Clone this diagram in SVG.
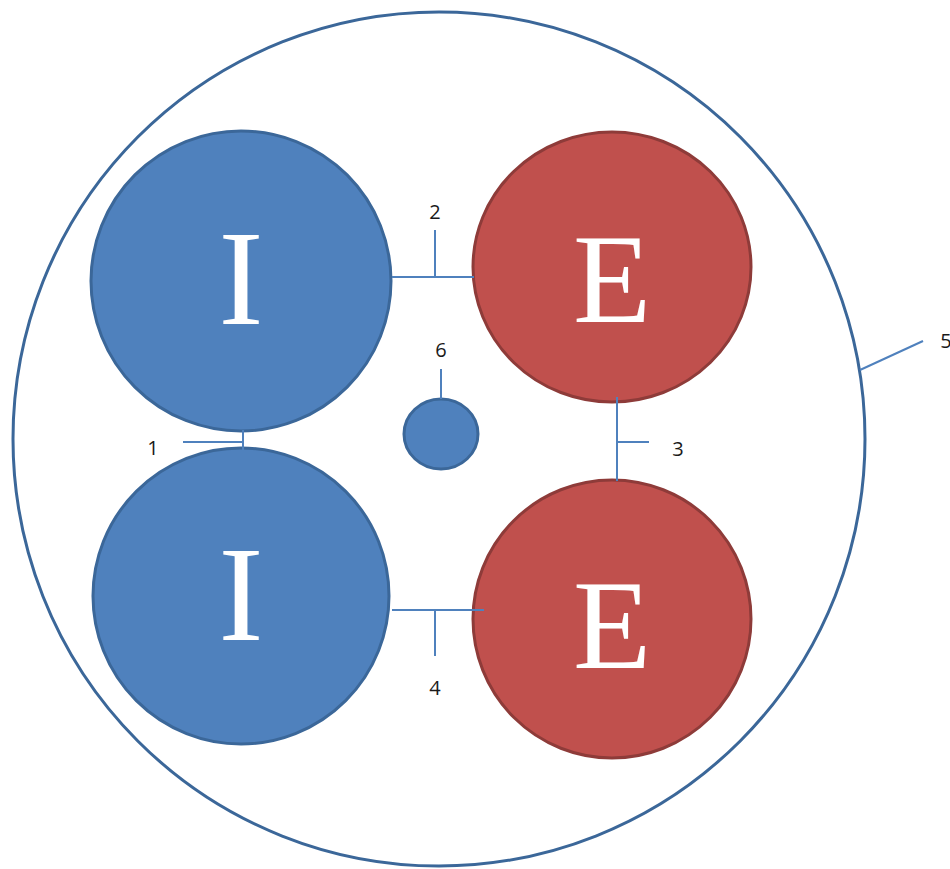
<svg xmlns="http://www.w3.org/2000/svg" width="950" height="869" viewBox="0 0 950 869">
<style>
.blue{fill:#4f81bd;stroke:#3b6799;stroke-width:3}
.red{fill:#c0504d;stroke:#8e3b39;stroke-width:3}
.big{font-family:"Liberation Serif",serif;fill:#fff;text-anchor:middle}
.lbl{font-family:"Open Sans","Liberation Sans",sans-serif;font-size:20px;fill:#1a1a1a;text-anchor:middle}
.con line{stroke:#4f81bd;stroke-width:2}
</style>
<rect width="950" height="869" fill="#fff"/>
<g id="outer"><ellipse cx="439" cy="439" rx="426" ry="427" fill="none" stroke="#3b6799" stroke-width="3"/></g>
<g id="I-top"><circle class="blue" cx="241" cy="281" r="150"/><text class="big" x="241" y="324" font-size="135">I</text></g>
<g id="I-bottom"><circle class="blue" cx="241" cy="596" r="148"/><text class="big" x="241" y="640" font-size="135">I</text></g>
<g id="E-top"><ellipse class="red" cx="612" cy="267" rx="139" ry="135"/><text class="big" x="612" y="322" font-size="128">E</text></g>
<g id="E-bottom"><ellipse class="red" cx="612" cy="619" rx="139" ry="139"/><text class="big" x="612" y="668" font-size="128">E</text></g>
<g id="small"><ellipse class="blue" cx="441" cy="434" rx="37" ry="35"/></g>
<g id="connectors" class="con">
<line x1="392" y1="277" x2="474" y2="277"/><line x1="435" y1="230" x2="435" y2="277"/>
<line x1="243" y1="430" x2="243" y2="452"/><line x1="183" y1="442" x2="243" y2="442"/>
<line x1="617" y1="397" x2="617" y2="481"/><line x1="617" y1="442" x2="649" y2="442"/>
<line x1="392" y1="610" x2="484" y2="610"/><line x1="435" y1="610" x2="435" y2="656"/>
<line x1="441" y1="369" x2="441" y2="399"/>
<line x1="860" y1="370" x2="923" y2="341"/>
</g>
<g id="labels">
<text class="lbl" x="435" y="219">2</text>
<text class="lbl" x="153" y="455">1</text>
<text class="lbl" x="678" y="456">3</text>
<text class="lbl" x="435" y="695">4</text>
<text class="lbl" x="441" y="357">6</text>
<text class="lbl" x="946" y="348">5</text>
</g>
</svg>
